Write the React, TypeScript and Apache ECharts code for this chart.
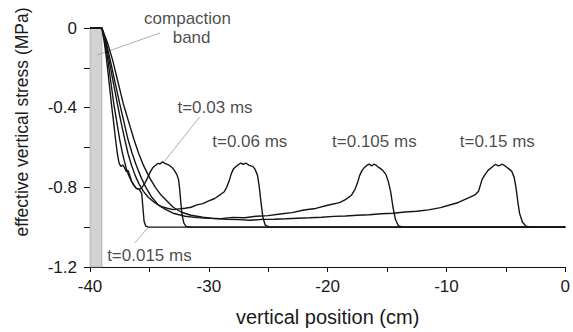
import React, { useEffect, useRef } from "react";
import * as echarts from "echarts";

const FONT = "'Liberation Sans', Arial, Helvetica, sans-serif";

const xTicks = [-40, -30, -20, -10, 0];
const yTicks = [0, -0.4, -0.8, -1.2];
const bandRange = [-40, -39.0];

const t015: number[][] = [
  [-40, 0], [-39.0, 0], [-38.8, -0.07], [-38.6, -0.16], [-38.4, -0.27], [-38.2, -0.38], [-38.0, -0.48],
  [-37.85, -0.56], [-37.7, -0.63], [-37.55, -0.68], [-37.4, -0.695], [-37.25, -0.688], [-37.1, -0.70],
  [-36.95, -0.72], [-36.8, -0.715], [-36.65, -0.74], [-36.5, -0.77], [-36.3, -0.79], [-36.1, -0.805],
  [-35.85, -0.81], [-35.65, -0.83], [-35.55, -0.9], [-35.45, -0.97], [-35.3, -0.995], [-35.1, -1.0], [0, -1.0],
];

const t03: number[][] = [
  [-40, 0], [-39.0, 0], [-38.75, -0.07], [-38.5, -0.16], [-38.25, -0.27], [-38.0, -0.38], [-37.75, -0.47],
  [-37.5, -0.56], [-37.3, -0.62], [-37.1, -0.67], [-36.9, -0.715], [-36.7, -0.745], [-36.5, -0.77],
  [-36.3, -0.79], [-36.1, -0.805], [-35.9, -0.81], [-35.7, -0.805], [-35.5, -0.79], [-35.3, -0.77],
  [-35.1, -0.745], [-34.9, -0.72], [-34.7, -0.70], [-34.5, -0.69], [-34.3, -0.68], [-34.1, -0.683],
  [-33.9, -0.672], [-33.7, -0.68], [-33.5, -0.685], [-33.3, -0.69], [-33.1, -0.70], [-32.9, -0.715],
  [-32.7, -0.735], [-32.55, -0.76], [-32.45, -0.81], [-32.35, -0.88], [-32.25, -0.94], [-32.1, -0.98],
  [-31.9, -0.997], [-31.5, -1.0], [0, -1.0],
];

const t06: number[][] = [
  [-40, 0], [-39.0, 0], [-38.7, -0.07], [-38.4, -0.16], [-38.05, -0.27], [-37.7, -0.38], [-37.4, -0.47],
  [-37.07, -0.56], [-36.8, -0.63], [-36.5, -0.69], [-36.2, -0.74], [-35.9, -0.78], [-35.5, -0.82],
  [-35.1, -0.85], [-34.6, -0.875], [-34.1, -0.895], [-33.5, -0.905], [-33, -0.912], [-32.5, -0.908],
  [-32, -0.905], [-31.5, -0.9], [-31, -0.888], [-30.5, -0.882], [-30, -0.868], [-29.5, -0.856],
  [-29, -0.835], [-28.7, -0.822], [-28.5, -0.80], [-28.3, -0.77], [-28.1, -0.73], [-27.9, -0.705],
  [-27.6, -0.69], [-27.3, -0.678], [-27.1, -0.685], [-26.9, -0.678], [-26.6, -0.69], [-26.3, -0.695],
  [-26.1, -0.71], [-25.9, -0.74], [-25.75, -0.8], [-25.6, -0.88], [-25.45, -0.95], [-25.25, -0.99],
  [-24.9, -1.0], [0, -1.0],
];

const t105: number[][] = [
  [-40, 0], [-39.0, 0], [-38.65, -0.07], [-38.3, -0.16], [-37.9, -0.27], [-37.5, -0.38], [-37.15, -0.47],
  [-36.8, -0.56], [-36.45, -0.63], [-36.1, -0.69], [-35.7, -0.75], [-35.3, -0.8], [-34.8, -0.85],
  [-34.3, -0.885], [-33.7, -0.91], [-33, -0.93], [-32, -0.945], [-31, -0.952], [-30, -0.955],
  [-29, -0.957], [-28, -0.951], [-27, -0.953], [-26, -0.945], [-25, -0.942], [-24, -0.934],
  [-23, -0.927], [-22, -0.914], [-21, -0.906], [-20, -0.89], [-19, -0.877], [-18.5, -0.862],
  [-18, -0.84], [-17.7, -0.81], [-17.5, -0.78], [-17.3, -0.74], [-17.1, -0.715], [-16.9, -0.70],
  [-16.7, -0.69], [-16.5, -0.683], [-16.3, -0.692], [-16.1, -0.684], [-15.9, -0.69], [-15.7, -0.70],
  [-15.4, -0.712], [-15.1, -0.735], [-14.9, -0.77], [-14.7, -0.82], [-14.5, -0.9], [-14.3, -0.96],
  [-14.05, -0.993], [-13.7, -1.0], [0, -1.0],
];

const t15: number[][] = [
  [-40, 0], [-39.0, 0], [-38.55, -0.07], [-38.1, -0.16], [-37.65, -0.27], [-37.2, -0.38], [-36.75, -0.47],
  [-36.3, -0.56], [-35.9, -0.63], [-35.5, -0.69], [-35.0, -0.75], [-34.5, -0.8], [-34, -0.84],
  [-33.5, -0.87], [-33, -0.9], [-32.3, -0.925], [-31.5, -0.94], [-30.5, -0.95], [-29.5, -0.957],
  [-28.5, -0.96], [-27.5, -0.962], [-26.5, -0.965], [-25.5, -0.961], [-24.5, -0.96], [-23.5, -0.958],
  [-22.5, -0.955], [-21.5, -0.953], [-20.5, -0.95], [-19.5, -0.946], [-18.5, -0.944], [-17.5, -0.94],
  [-16.5, -0.938], [-15.5, -0.933], [-14.5, -0.93], [-13.5, -0.924], [-12.5, -0.92], [-11.5, -0.913],
  [-10.5, -0.902], [-9.8, -0.89], [-9, -0.876], [-8.1, -0.852], [-7.6, -0.838], [-7.3, -0.82],
  [-7.15, -0.79], [-7.0, -0.76], [-6.8, -0.74], [-6.5, -0.715], [-6.2, -0.70], [-5.9, -0.685],
  [-5.6, -0.692], [-5.3, -0.684], [-5.0, -0.695], [-4.7, -0.71], [-4.5, -0.72], [-4.3, -0.75],
  [-4.15, -0.8], [-4.0, -0.87], [-3.85, -0.93], [-3.6, -0.975], [-3.3, -0.995], [-2.9, -1.0], [0, -1.0],
];

const curves = [t015, t03, t06, t105, t15];

const labelTexts = ["compaction", "band", "t=0.03 ms", "t=0.06 ms", "t=0.105 ms", "t=0.15 ms", "t=0.015 ms"];
const labelX = [-31.79, -31.45, -29.48, -26.55, -16.07, -5.72, -35.0];
const labelY = [0.05, -0.05, -0.399, -0.57, -0.57, -0.57, -1.14];

const leaders: number[][][] = [
  [[-34.1, -0.025], [-39.4, -0.136]],
  [[-30.78, -0.447], [-33.71, -0.668]],
  [[-36.23, -1.079], [-35.14, -1.004]],
];

const xName = "vertical position (cm)";
const yName = "effective vertical stress (MPa)";

export default function App() {
  const ref = useRef<HTMLDivElement>(null);
  useEffect(() => {
    if (!ref.current) return;
    const chart = echarts.init(ref.current, undefined, { renderer: "svg" });
    const series: any[] = [];
    curves.forEach((c, i) => {
      const s: any = {
        type: "line",
        data: c,
        showSymbol: false,
        symbol: "none",
        silent: true,
        lineStyle: { color: "#151515", width: 1.4 },
        z: 3,
      };
      if (i === 0) {
        s.markArea = {
          silent: true,
          itemStyle: { color: "#d2d2d2", borderColor: "#9a9a9a", borderWidth: 0.6 },
          data: [[{ xAxis: bandRange[0], yAxis: 0 }, { xAxis: bandRange[1], yAxis: -1.2 }]],
        };
      }
      series.push(s);
    });
    leaders.forEach((l) => {
      series.push({
        type: "line",
        data: l,
        showSymbol: false,
        symbol: "none",
        silent: true,
        lineStyle: { color: "#9a9a9a", width: 0.8 },
        z: 2,
      });
    });
    series.push({
      type: "scatter",
      clip: false,
      symbolSize: 0,
      silent: true,
      data: labelTexts.map((t, i) => ({ name: t, value: [labelX[i], labelY[i]] })),
      label: {
        show: true,
        position: "inside",
        formatter: (p: any) => p.name,
        color: "#1a1a1a",
        fontSize: 17,
        fontFamily: FONT,
      },
      z: 5,
    });

    chart.setOption({
      animation: false,
      backgroundColor: "#ffffff",
      grid: { left: 90, right: 6, top: 28, bottom: 65 },
      xAxis: {
        type: "value",
        min: xTicks[0],
        max: xTicks[xTicks.length - 1],
        interval: 10,
        name: xName,
        nameLocation: "middle",
        nameGap: 40,
        nameTextStyle: { fontSize: 20, fontFamily: FONT, color: "#1a1a1a" },
        axisLine: { show: true, onZero: false, lineStyle: { color: "#111", width: 1 } },
        axisTick: { show: true, length: 5, lineStyle: { color: "#111" } },
        minorTick: { show: true, splitNumber: 2, length: 5, lineStyle: { color: "#111" } },
        splitLine: { show: false },
        axisLabel: {
          fontSize: 17,
          fontFamily: FONT,
          color: "#1a1a1a",
          margin: 11,
          formatter: (v: number) => String(Math.round(v)),
        },
      },
      yAxis: {
        type: "value",
        min: yTicks[yTicks.length - 1],
        max: yTicks[0],
        interval: 0.4,
        axisLine: { show: true, onZero: false, lineStyle: { color: "#111", width: 1 } },
        axisTick: { show: true, length: 6, lineStyle: { color: "#111" } },
        minorTick: { show: true, splitNumber: 2, length: 6, lineStyle: { color: "#111" } },
        splitLine: { show: false },
        axisLabel: {
          fontSize: 17,
          fontFamily: FONT,
          color: "#1a1a1a",
          margin: 13,
          formatter: (v: number) => (Math.abs(v) < 1e-9 ? "0" : (Math.round(v * 10) / 10).toFixed(1)),
        },
      },
      graphic: [
        {
          type: "text",
          x: 22,
          y: 122,
          rotation: Math.PI / 2,
          style: {
            text: yName,
            fontSize: 17.5,
            fontFamily: FONT,
            fill: "#1a1a1a",
            textAlign: "center",
            textVerticalAlign: "middle",
          },
        },
      ],
      series,
    });
    return () => chart.dispose();
  }, []);
  return (
    <div
      ref={ref}
      style={{ position: "absolute", left: 0, top: 0, width: 573, height: 332 }}
    />
  );
}
